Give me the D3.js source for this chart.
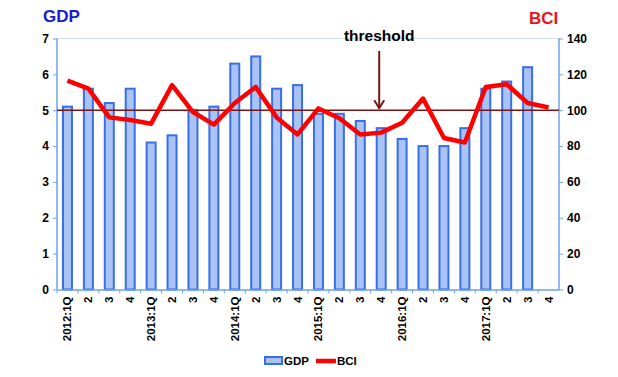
<!DOCTYPE html>
<html>
<head>
<meta charset="utf-8">
<script src="https://cdn.jsdelivr.net/npm/d3@7"></script>
<style>
  body { margin: 0; background: #fff; }
  svg { display: block; font-family: "Liberation Sans", Arial, sans-serif; }
</style>
</head>
<body>
<div id="chart"></div>
<script>
// quarters 2012:1Q .. 2017:4
const quarters = [
  '2012:1Q', '2', '3', '4',
  '2013:1Q', '2', '3', '4',
  '2014:1Q', '2', '3', '4',
  '2015:1Q', '2', '3', '4',
  '2016:1Q', '2', '3', '4',
  '2017:1Q', '2', '3', '4'
];
// GDP (left axis), last quarter has no value yet
const gdp = [5.1, 5.6, 5.2, 5.6, 4.1, 4.3, 5.0, 5.1, 6.3, 6.5, 5.6, 5.7,
  4.9, 4.9, 4.7, 4.5, 4.2, 4.0, 4.0, 4.5, 5.6, 5.8, 6.2, null];
// BCI (right axis)
const bci = [116.5, 112, 96, 94.5, 92.5, 114, 99, 92, 104, 113, 96, 86.5,
  101, 95.5, 86.5, 87.5, 93, 106.5, 84.5, 82, 113, 114.5, 104, 101.5];
const gdpTicks = [0, 1, 2, 3, 4, 5, 6, 7];
const bciTicks = [0, 20, 40, 60, 80, 100, 120, 140];
const gdpThreshold = 5;

const width = 618, height = 377;
const margin = { top: 38.5, right: 59, bottom: 87.5, left: 57 };
const innerW = width - margin.left - margin.right;
const innerH = height - margin.top - margin.bottom;

const axisColor = '#6fa3e8';
const barFill = '#a9c3f4';
const barStroke = '#3a6ee6';
const lineColor = '#ff0000';
const darkRed = '#7a1414';

const svg = d3.select('#chart').append('svg')
  .attr('width', width)
  .attr('height', height);

const g = svg.append('g')
  .attr('transform', `translate(${margin.left},${margin.top})`);

const x = d3.scaleBand()
  .domain(d3.range(quarters.length))
  .range([0, innerW]);
const yL = d3.scaleLinear().domain([0, 7]).range([innerH, 0]);
const yR = d3.scaleLinear().domain([0, 140]).range([innerH, 0]);

// top gridline
g.append('line')
  .attr('x1', 0).attr('x2', innerW)
  .attr('y1', yL(7)).attr('y2', yL(7))
  .attr('stroke', '#cfe0f7').attr('stroke-width', 1);

// bars
const barW = 9;
g.append('g').selectAll('rect')
  .data(gdp.map((v, i) => ({ v, i })).filter(d => d.v != null))
  .join('rect')
  .attr('x', d => x(d.i) + x.bandwidth() / 2 - barW / 2)
  .attr('width', barW)
  .attr('y', d => yL(d.v))
  .attr('height', d => yL(0) - yL(d.v))
  .attr('fill', barFill)
  .attr('stroke', barStroke)
  .attr('stroke-width', 2);

// left axis
const leftAxis = g.append('g')
  .call(d3.axisLeft(yL).tickValues(gdpTicks).tickSize(4).tickPadding(4).tickFormat(d3.format('d')));
// right axis
const rightAxis = g.append('g')
  .attr('transform', `translate(${innerW},0)`)
  .call(d3.axisRight(yR).tickValues(bciTicks).tickSize(4).tickPadding(4).tickFormat(d3.format('d')));
// bottom axis, ticks between categories
const bottomAxis = g.append('g')
  .attr('transform', `translate(0,${innerH})`)
  .call(d3.axisBottom(x).tickSize(0).tickPadding(6).tickFormat(i => quarters[i]));

bottomAxis.selectAll('.tick')
  .append('line')
  .attr('x1', -x.bandwidth() / 2).attr('x2', -x.bandwidth() / 2)
  .attr('y1', 0).attr('y2', 4)
  .attr('stroke', axisColor);

[leftAxis, rightAxis, bottomAxis].forEach(a => {
  a.selectAll('.domain').attr('stroke', axisColor).attr('stroke-width', 1.5);
  a.selectAll('.tick line').attr('stroke', axisColor);
  a.selectAll('text')
    .attr('fill', '#000')
    .style('font-size', '12px')
    .style('font-weight', 'bold');
});
leftAxis.selectAll('.domain').attr('d', `M0,${innerH}V0`);
rightAxis.selectAll('.domain').attr('d', `M0,${innerH}V0`);

bottomAxis.selectAll('.tick text')
  .attr('transform', 'rotate(-90)')
  .attr('text-anchor', 'end')
  .attr('dy', '0.35em')
  .attr('x', -7)
  .attr('y', 0)
  .style('font-size', '11.5px');

// threshold line
g.append('line')
  .attr('x1', 0).attr('x2', innerW)
  .attr('y1', yL(gdpThreshold)).attr('y2', yL(gdpThreshold))
  .attr('stroke', darkRed).attr('stroke-width', 1.6);

// BCI line
const line = d3.line()
  .x((d, i) => x(i) + x.bandwidth() / 2)
  .y(d => yR(d));
g.append('path')
  .datum(bci)
  .attr('d', line)
  .attr('fill', 'none')
  .attr('stroke', lineColor)
  .attr('stroke-width', 4.5)
  .attr('stroke-linejoin', 'round');

// threshold label and arrow
const arrowX = margin.left + x(15) + x.bandwidth() / 2 - 2;
svg.append('text')
  .attr('x', arrowX)
  .attr('y', 41)
  .attr('text-anchor', 'middle')
  .style('font-size', '15.5px')
  .style('font-weight', 'bold')
  .text('threshold');
const ay0 = 51, ay1 = margin.top + yL(gdpThreshold) - 2;
svg.append('line')
  .attr('x1', arrowX).attr('x2', arrowX)
  .attr('y1', ay0).attr('y2', ay1)
  .attr('stroke', darkRed).attr('stroke-width', 2);
svg.append('path')
  .attr('d', `M${arrowX - 5},${ay1 - 8}L${arrowX},${ay1}L${arrowX + 5},${ay1 - 8}`)
  .attr('fill', 'none')
  .attr('stroke', darkRed).attr('stroke-width', 2);

// axis titles
svg.append('text')
  .attr('x', 43).attr('y', 22)
  .attr('fill', '#1a1ad6')
  .style('font-size', '17px')
  .style('font-weight', 'bold')
  .text('GDP');
svg.append('text')
  .attr('x', 529).attr('y', 24)
  .attr('fill', '#e8141e')
  .style('font-size', '17px')
  .style('font-weight', 'bold')
  .text('BCI');

// legend
const lg = svg.append('g').attr('transform', 'translate(265,361)');
lg.append('rect')
  .attr('x', 0).attr('y', -4).attr('width', 17).attr('height', 7)
  .attr('fill', barFill).attr('stroke', barStroke).attr('stroke-width', 2);
lg.append('text')
  .attr('x', 19).attr('y', 4)
  .style('font-size', '11.5px').style('font-weight', 'bold')
  .text('GDP');
lg.append('line')
  .attr('x1', 51).attr('x2', 71).attr('y1', 0).attr('y2', 0)
  .attr('stroke', lineColor).attr('stroke-width', 4.5);
lg.append('text')
  .attr('x', 72).attr('y', 4)
  .style('font-size', '11.5px').style('font-weight', 'bold')
  .text('BCI');
</script>
</body>
</html>
